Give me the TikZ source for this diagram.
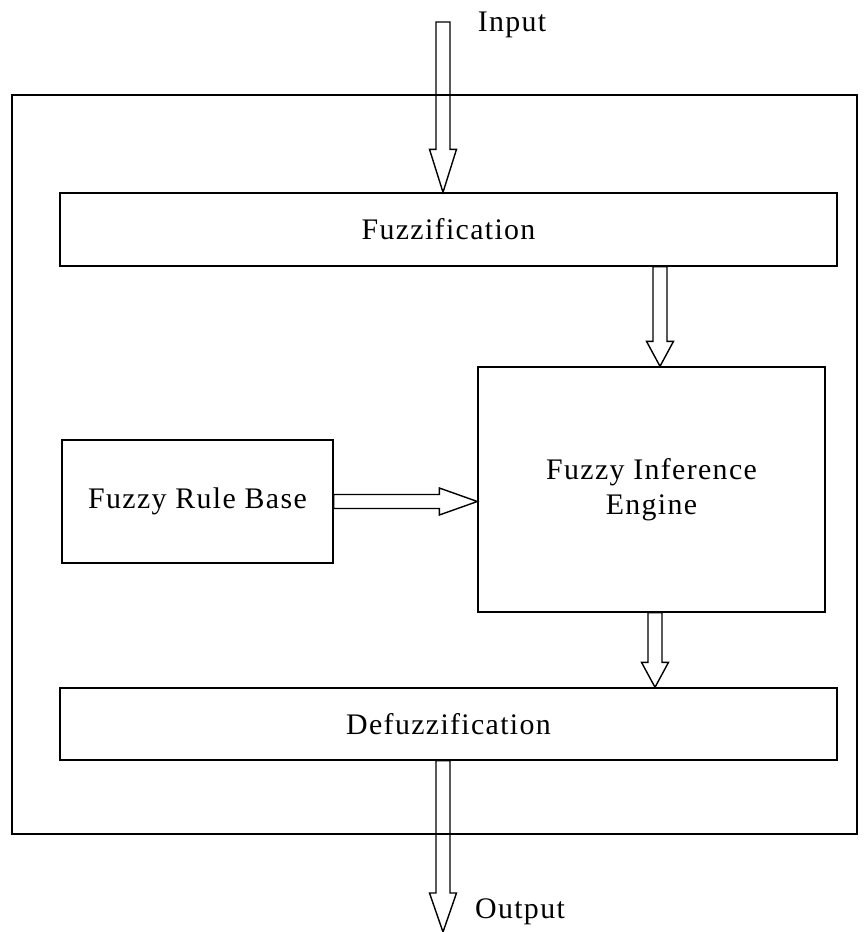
\documentclass[tikz,border=0pt]{standalone}
\usepackage{fontspec}
\setmainfont{Liberation Serif}[LetterSpace=4.5]
\usetikzlibrary{calc,positioning}

\tikzset{
  box/.style={draw, line width=0.8pt, inner sep=0pt, font=\fontsize{17}{20}\selectfont},
  fatline/.style={draw, line width=0.8pt, line join=miter},
  lbl/.style={draw=none, inner sep=0pt, font=\fontsize{17}{20}\selectfont}
}

% hollow block arrow: from, to, head length (cm)
\newcommand{\fatarrow}[3]{%
  \coordinate (fa-h) at ($(#2)!#3!(#1)$);
  \draw[fatline] ($(#1)!0.14cm!90:(#2)$) -- ($(fa-h)!0.14cm!90:(#2)$)
    -- ($(fa-h)!0.27cm!90:(#2)$) -- (#2) -- ($(fa-h)!0.27cm!-90:(#2)$)
    -- ($(fa-h)!0.14cm!-90:(#2)$) -- ($(#1)!0.14cm!-90:(#2)$) -- cycle;
}

\begin{document}
\begin{tikzpicture}[x=0.02cm, y=-0.02cm]

\useasboundingbox (0,0) rectangle (865,932);

% Outer frame
\draw[line width=0.8pt] (12,95) rectangle (857,834);

% Blocks
\node[box, minimum width=15.54cm, minimum height=1.46cm] (fuzz) at (448.5,229.5) {Fuzzification};
\node[box, minimum width=6.94cm, minimum height=4.9cm, align=center] (fie) at (651.5,489.5) {Fuzzy Inference\\Engine};
\node[box, minimum width=5.42cm, minimum height=2.46cm] (frb) at (197.5,501.5) {Fuzzy Rule Base};
\node[box, minimum width=15.54cm, minimum height=1.44cm] (defuzz) at (448.5,724) {Defuzzification};

% Input / Output
\coordinate (in) at (443,22);
\coordinate (out) at (443,932);
\node[lbl] (inlbl) at (512,25) {Input};
\node[lbl] (outlbl) at (520,912) {Output};

% Arrows
\fatarrow{in}{in |- fuzz.north}{0.86cm}
\coordinate (fie-in) at ($(fie.north)+(8.5,0)$);
\fatarrow{fie-in |- fuzz.south}{fie-in}{0.5cm}
\fatarrow{frb.east}{frb.east -| fie.west}{0.76cm}
\coordinate (fie-out) at ($(fie.south)+(3.5,0)$);
\fatarrow{fie-out}{fie-out |- defuzz.north}{0.5cm}
\fatarrow{in |- defuzz.south}{out}{0.78cm}

\end{tikzpicture}
\end{document}
